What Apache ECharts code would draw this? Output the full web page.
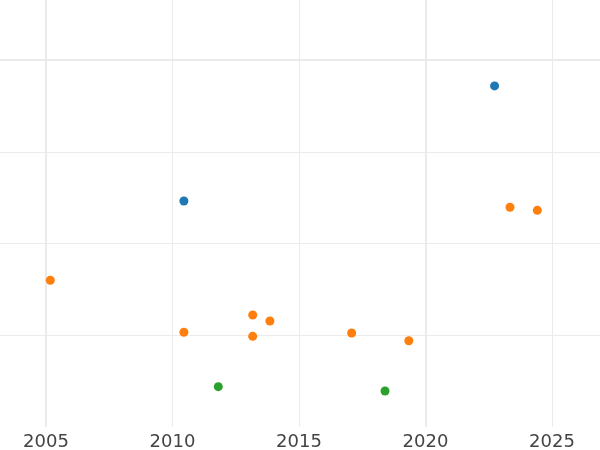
<!DOCTYPE html>
<html>
<head>
<meta charset="utf-8">
<script src="https://cdn.jsdelivr.net/npm/echarts@6/dist/echarts.min.js"></script>
<style>
  html, body { margin: 0; padding: 0; background: #fff; }
  #chart { width: 600px; height: 450px; }
</style>
</head>
<body>
<div id="chart"></div>
<script>
// values (y has no labels, arbitrary units)
const blueYears = [2022.73, 2010.45]
const blueValues = [3.72, 2.465]

const orangeYears = [2005.17, 2010.45, 2013.17, 2013.85, 2013.17, 2017.08, 2019.34, 2023.34, 2024.42]
const orangeValues = [1.60, 1.033, 1.221, 1.156, 0.989, 1.025, 0.941, 2.396, 2.363]

const greenYears = [2011.81, 2018.40]
const greenValues = [0.44, 0.393]

const pairs = (xs, ys) => xs.map((x, i) => [x, ys[i]])

const gridColor = '#ebebeb'

const chart = echarts.init(document.getElementById('chart'))
chart.setOption({
  animation: false,
  backgroundColor: '#fff',
  grid: {
    // axis ranges run past the picture so only 2005..2025 is visible
    left: -333.5,
    right: -205,
    top: -306.6,
    bottom: 23,
    outerBoundsMode: 'none',
    containLabel: false
  },
  xAxis: [
    {
      type: 'value',
      min: 1990,
      max: 2035,
      interval: 5,
      axisLine: { show: false },
      axisTick: { show: false },
      axisLabel: {
        color: '#444',
        fontFamily: 'DejaVu Sans',
        fontSize: 18,
        margin: 6,
        formatter: function (value) {
          return String(value)
        }
      },
      splitLine: {
        show: true,
        showMinLine: false,
        showMaxLine: false,
        lineStyle: { color: gridColor, width: 1 }
      }
    },
    {
      // heavier lines at 2005 and 2020
      type: 'value',
      position: 'top',
      min: 1990,
      max: 2035,
      interval: 15,
      axisLine: { show: false },
      axisTick: { show: false },
      axisLabel: { show: false },
      splitLine: {
        show: true,
        showMinLine: false,
        showMaxLine: false,
        lineStyle: { color: gridColor, width: 2 }
      }
    }
  ],
  yAxis: [
    {
      type: 'value',
      min: 0,
      max: 8,
      interval: 1,
      axisLine: { show: false },
      axisTick: { show: false },
      axisLabel: { show: false },
      splitLine: {
        show: true,
        showMinLine: false,
        showMaxLine: false,
        lineStyle: { color: gridColor, width: 1 }
      }
    },
    {
      type: 'value',
      position: 'right',
      min: 0,
      max: 8,
      interval: 4,
      axisLine: { show: false },
      axisTick: { show: false },
      axisLabel: { show: false },
      splitLine: {
        show: true,
        showMinLine: false,
        showMaxLine: false,
        lineStyle: { color: gridColor, width: 2 }
      }
    }
  ],
  series: [
    {
      type: 'scatter',
      data: pairs(blueYears, blueValues),
      symbolSize: 9,
      itemStyle: { color: '#1f77b4', opacity: 1 }
    },
    {
      type: 'scatter',
      data: pairs(orangeYears, orangeValues),
      symbolSize: 9,
      itemStyle: { color: '#ff7f0e', opacity: 1 }
    },
    {
      type: 'scatter',
      data: pairs(greenYears, greenValues),
      symbolSize: 9,
      itemStyle: { color: '#2ca02c', opacity: 1 }
    }
  ]
})
</script>
</body>
</html>
